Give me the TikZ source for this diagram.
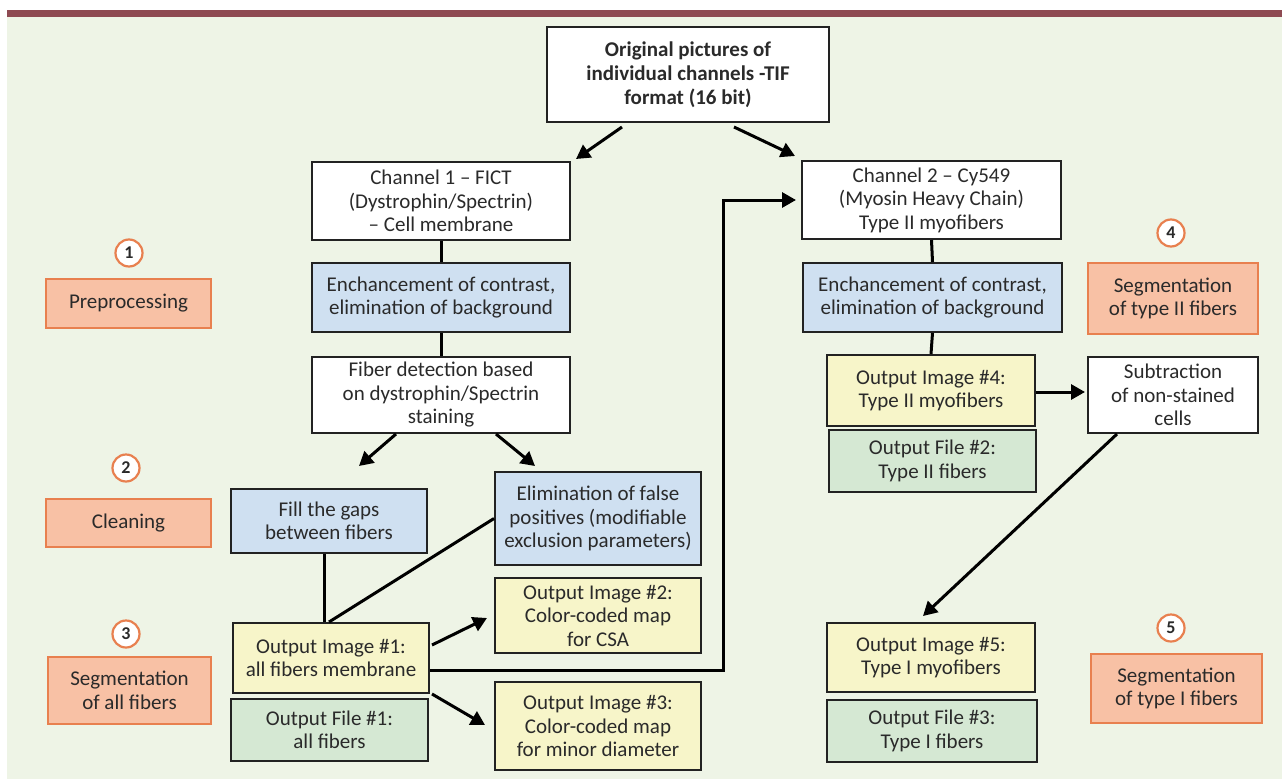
\documentclass[tikz,border=0pt]{standalone}
\usepackage{fontspec}
\setmainfont{Carlito}
\usetikzlibrary{arrows.meta,calc}
\definecolor{bgc}{HTML}{EEF4E6}
\definecolor{barc}{HTML}{8E4A52}
\definecolor{bluec}{HTML}{CFE0F1}
\definecolor{yelc}{HTML}{F7F5C9}
\definecolor{grnc}{HTML}{D5E8D3}
\definecolor{orgf}{HTML}{F8C1A5}
\definecolor{orgd}{HTML}{E8804F}
\definecolor{txtc}{HTML}{2A2A2A}
\definecolor{linec}{HTML}{222222}
\tikzset{
  box/.style={draw=linec, line width=2pt, fill=white, align=center, inner sep=0pt,
    text=txtc, font=\fontsize{21}{23.5}\selectfont},
  bluebox/.style={box, fill=bluec},
  yelbox/.style={box, fill=yelc},
  grnbox/.style={box, fill=grnc},
  orgbox/.style={box, draw=orgd, fill=orgf},
  num/.style={circle, draw=orgd, line width=2.2pt, fill=white, minimum size=27pt, inner sep=0pt,
    font=\fontsize{18}{18}\selectfont\bfseries, text=txtc},
  arr/.style={draw=black, line width=3pt, -{Triangle[length=14pt,width=15pt]}},
  lnk/.style={draw=black, line width=3pt},
}
\begin{document}
\begin{tikzpicture}[x=1pt,y=-1pt]
\useasboundingbox (0,0) rectangle (1282,779);
\fill[white] (0,0) rectangle (1282,779);
\fill[bgc] (7,16) rectangle (1282,779);
\fill[barc] (7,10) rectangle (1282,16.5);

% left stage labels
\node[num] (c1) at (129,253) {1};
\node[orgbox, minimum width=165pt, minimum height=49pt] (pre) at (128.5,303.5) {Preprocessing};
\node[num] (c2) at (126,468) {2};
\node[orgbox, minimum width=165pt, minimum height=48pt] (clean) at (128.5,523) {Cleaning};
\node[num] (c3) at (126,634) {3};
\node[orgbox, minimum width=163pt, minimum height=67pt] (segall) at (129.5,690.5) {Segmentation\\of all fibers};

% right stage labels
\node[num] (c4) at (1171,233) {4};
\node[orgbox, minimum width=170pt, minimum height=71pt] (seg2) at (1173,298.5) {Segmentation\\of type II fibers};
\node[num] (c5) at (1171,628) {5};
\node[orgbox, minimum width=171pt, minimum height=69pt] (seg1) at (1176.5,688.5) {Segmentation\\of type I fibers};

% main flow
\node[box, minimum width=282pt, minimum height=95pt, font=\fontsize{21}{24}\selectfont\bfseries] (top) at (688,74.5)
  {Original pictures of\\individual channels -TIF\\format (16 bit)};
\node[box, minimum width=258pt, minimum height=78pt] (ch1) at (441,201)
  {Channel 1 -- FICT\\(Dystrophin/Spectrin)\\-- Cell membrane};
\node[box, minimum width=259pt, minimum height=78pt] (ch2) at (931.5,200)
  {Channel 2 -- Cy549\\(Myosin Heavy Chain)\\Type II myofibers};
\node[bluebox, minimum width=258pt, minimum height=69pt] (enh1) at (441,297.5)
  {Enchancement of contrast,\\elimination of background};
\node[bluebox, minimum width=259pt, minimum height=69pt] (enh2) at (932.5,297.5)
  {Enchancement of contrast,\\elimination of background};
\node[box, minimum width=258pt, minimum height=76pt] (fib) at (441,395)
  {Fiber detection based\\on dystrophin/Spectrin\\staining};
\node[yelbox, minimum width=208pt, minimum height=71pt] (out4) at (931,390.5)
  {Output Image \#4:\\Type II myofibers};
\node[box, minimum width=170pt, minimum height=76pt] (sub) at (1173,395)
  {Subtraction\\of non-stained\\cells};
\node[grnbox, minimum width=207pt, minimum height=62pt] (of2) at (932.5,461)
  {Output File \#2:\\Type II fibers};
\node[bluebox, minimum width=196pt, minimum height=64pt] (fill) at (329,521)
  {Fill the gaps\\between fibers};
\node[bluebox, minimum width=206pt, minimum height=93pt] (elim) at (598,518.5)
  {Elimination of false\\positives (modifiable\\exclusion parameters)};
\node[yelbox, minimum width=206pt, minimum height=75pt] (out2) at (598,615.5)
  {Output Image \#2:\\Color-coded map\\for CSA};
\node[yelbox, minimum width=196pt, minimum height=70pt] (out1) at (331,658)
  {Output Image \#1:\\all fibers membrane};
\node[grnbox, minimum width=197pt, minimum height=62pt] (of1) at (329.5,730)
  {Output File \#1:\\all fibers};
\node[yelbox, minimum width=206pt, minimum height=88pt] (out3) at (598,726)
  {Output Image \#3:\\Color-coded map\\for minor diameter};
\node[yelbox, minimum width=208pt, minimum height=69pt] (out5) at (931,657.5)
  {Output Image \#5:\\Type I myofibers};
\node[grnbox, minimum width=210pt, minimum height=62pt] (of3) at (932,731)
  {Output File \#3:\\Type I fibers};

% connectors
\draw[arr] ($(top.south)+(-66,4)$) -- ($(ch1.north east)+(5,-2)$);
\draw[arr] ($(top.south)+(46,4)$) -- ($(ch2.north west)+(-6,-4)$);
\draw[lnk] (ch1.south) -- (enh1.north);
\draw[lnk] (enh1.south) -- (fib.north);
\draw[arr] ($(fib.south)+(-45,0)$) -- ($(fill.north)+(30,-22)$);
\draw[arr] ($(fib.south)+(55,0)$) -- ($(elim.north)+(-63,-5)$);
\draw[lnk] ($(fill.south)+(-5,0)$) -- ($(out1.north)+(-7,0)$);
\draw[lnk] (elim.west) -- ($(out1.north)+(-2,0)$);
\draw[arr] ($(out1.east)+(2,-13)$) -- ($(out2.west)+(-7,2.5)$);
\draw[arr] ($(out1.south east)+(2,0)$) -- ($(out3.west)+(-9,-1)$);
\draw[lnk, -{Triangle[length=14pt,width=15pt]}] ($(out1.east)+(0,12)$) -| ($(ch2.west)+(-78,0)$) -- ($(ch2.west)+(-5,0)$);
\draw[lnk] (ch2.south) -- (enh2.north);
\draw[lnk] (enh2.south) -- (out4.north);
\draw[arr] ($(out4.east)+(0,1.5)$) -- ($(sub.west)+(-2,-3)$);
\draw[arr] ($(sub.south)+(-56,0)$) -- ($(out5.north)+(-8,-6)$);
\end{tikzpicture}
\end{document}
